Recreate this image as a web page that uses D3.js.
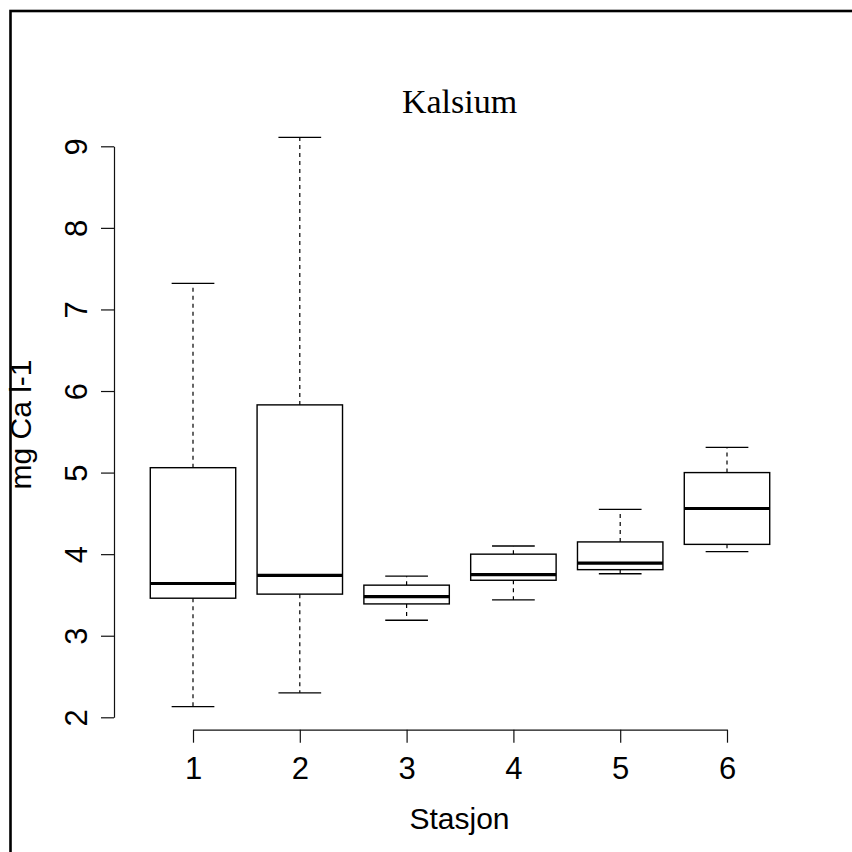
<!DOCTYPE html>
<html>
<head>
<meta charset="utf-8">
<script src="https://cdn.jsdelivr.net/npm/d3@7"></script>
<style>
  html, body { margin: 0; padding: 0; background: #fff; }
  svg { display: block; }
</style>
</head>
<body>
<svg id="chart" width="852" height="852"></svg>
<script>
// box statistics per station
var stations = ["1", "2", "3", "4", "5", "6"];
var lowerWhisker = [2.13, 2.30, 3.19, 3.44, 3.76, 4.03];
var lowerQuartile = [3.46, 3.51, 3.39, 3.68, 3.81, 4.12];
var medians = [3.64, 3.74, 3.48, 3.75, 3.89, 4.56];
var upperQuartile = [5.06, 5.83, 3.62, 4.00, 4.15, 5.00];
var upperWhisker = [7.32, 9.11, 3.73, 4.10, 4.55, 5.31];
var yTicks = [2, 3, 4, 5, 6, 7, 8, 9];

var svg = d3.select("#chart");
var width = +svg.attr("width");
var height = +svg.attr("height");

var boxes = stations.map(function (s, i) {
  return {
    name: s, pos: i + 1,
    lo: lowerWhisker[i], q1: lowerQuartile[i], med: medians[i],
    q3: upperQuartile[i], hi: upperWhisker[i]
  };
});

var x = d3.scaleLinear().domain([1, 6]).range([193, 727]);
var y = d3.scaleLinear().domain([2, 9]).range([717.3, 146.3]);
var step = x(2) - x(1);
var boxHalf = step * 0.4;
var capHalf = step * 0.2;

// outer frame
svg.append("rect")
  .attr("x", 10.5).attr("y", 11)
  .attr("width", width).attr("height", height)
  .attr("fill", "none")
  .attr("stroke", "#000")
  .attr("stroke-width", 2.6);

var g = svg.append("g");

// whiskers (dashed)
var whisk = g.selectAll(".whisker")
  .data(boxes)
  .enter().append("g")
  .attr("class", "whisker");

whisk.append("line")
  .attr("x1", d => x(d.pos)).attr("x2", d => x(d.pos))
  .attr("y1", d => y(d.q3)).attr("y2", d => y(d.hi))
  .attr("stroke", "#000").attr("stroke-width", 1.2)
  .attr("stroke-dasharray", "4,4");

whisk.append("line")
  .attr("x1", d => x(d.pos)).attr("x2", d => x(d.pos))
  .attr("y1", d => y(d.q1)).attr("y2", d => y(d.lo))
  .attr("stroke", "#000").attr("stroke-width", 1.2)
  .attr("stroke-dasharray", "4,4");

// staples
whisk.append("line")
  .attr("x1", d => x(d.pos) - capHalf).attr("x2", d => x(d.pos) + capHalf)
  .attr("y1", d => y(d.hi)).attr("y2", d => y(d.hi))
  .attr("stroke", "#000").attr("stroke-width", 1.3);

whisk.append("line")
  .attr("x1", d => x(d.pos) - capHalf).attr("x2", d => x(d.pos) + capHalf)
  .attr("y1", d => y(d.lo)).attr("y2", d => y(d.lo))
  .attr("stroke", "#000").attr("stroke-width", 1.3);

// boxes
g.selectAll(".box")
  .data(boxes)
  .enter().append("rect")
  .attr("class", "box")
  .attr("x", d => x(d.pos) - boxHalf)
  .attr("width", boxHalf * 2)
  .attr("y", d => y(d.q3))
  .attr("height", d => y(d.q1) - y(d.q3))
  .attr("fill", "#fff")
  .attr("stroke", "#000")
  .attr("stroke-width", 1.4);

// medians
g.selectAll(".median")
  .data(boxes)
  .enter().append("line")
  .attr("class", "median")
  .attr("x1", d => x(d.pos) - boxHalf).attr("x2", d => x(d.pos) + boxHalf)
  .attr("y1", d => y(d.med)).attr("y2", d => y(d.med))
  .attr("stroke", "#000").attr("stroke-width", 3.2);

// y axis
var yAxis = svg.append("g")
  .attr("transform", "translate(114,0)")
  .call(d3.axisLeft(y).tickValues(yTicks).tickSize(13).tickSizeOuter(0).tickFormat(d3.format("d")));
yAxis.selectAll("path, line").attr("stroke", "#111").attr("stroke-width", 1.2);
yAxis.selectAll("text")
  .attr("x", null).attr("dy", null)
  .attr("transform", "translate(-27,0) rotate(-90)")
  .attr("text-anchor", "middle")
  .attr("fill", "#000")
  .style("font-family", "'Liberation Sans', Arial, sans-serif")
  .style("font-size", "31px");

// x axis
var xAxis = svg.append("g")
  .attr("transform", "translate(0,729.7)")
  .call(d3.axisBottom(x).tickValues(boxes.map(d => d.pos)).tickSize(13).tickSizeOuter(0)
    .tickFormat(function (d, i) { return stations[i]; }));
xAxis.selectAll("path, line").attr("stroke", "#111").attr("stroke-width", 1.2);
xAxis.selectAll("text")
  .attr("y", 49.6).attr("dy", null)
  .attr("fill", "#000")
  .style("font-family", "'Liberation Sans', Arial, sans-serif")
  .style("font-size", "31px");

// title and axis labels
svg.append("text")
  .attr("x", 459.5).attr("y", 113.3)
  .attr("text-anchor", "middle")
  .style("font-family", "'Liberation Serif', 'Times New Roman', serif")
  .style("font-size", "34px")
  .text("Kalsium");

svg.append("text")
  .attr("x", 459.5).attr("y", 829.3)
  .attr("text-anchor", "middle")
  .style("font-family", "'Liberation Sans', Arial, sans-serif")
  .style("font-size", "30px")
  .text("Stasjon");

svg.append("text")
  .attr("transform", "translate(31,424.5) rotate(-90)")
  .attr("text-anchor", "middle")
  .style("font-family", "'Liberation Sans', Arial, sans-serif")
  .style("font-size", "30px")
  .text("mg Ca l-1");
</script>
</body>
</html>
